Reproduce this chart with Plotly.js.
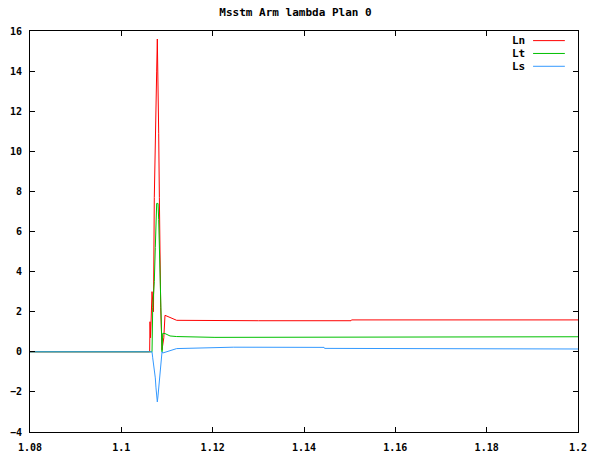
<!DOCTYPE html>
<html>
<head>
<meta charset="utf-8">
<script src="https://cdn.plot.ly/plotly-3.0.1.min.js"></script>
<style>html,body{margin:0;padding:0;background:#fff;}#chart{width:591px;height:456px;}</style>
</head>
<body>
<div id="chart"></div>
<script>
// ---- data ----
const lnX = [1.08, 1.1062, 1.10628, 1.10640, 1.10672, 1.10704, 1.10722, 1.10744, 1.10759, 1.10774, 1.10788, 1.10803, 1.10818, 1.10833, 1.10862, 1.10891, 1.10930, 1.10956, 1.11066, 1.11212, 1.1300, 1.1503, 1.1504, 1.2];
const lnY = [0, 0, 1.5, 0.7, 3.0, 2.0, 7.7, 10.9, 14.0, 14.0, 15.6, 14.0, 10.9, 7.7, 2.2, 0.1, 0.7, 1.82, 1.7, 1.57, 1.55, 1.55, 1.59, 1.59];

const ltX = [1.08, 1.10672, 1.10687, 1.10722, 1.10744, 1.10759, 1.10774, 1.10788, 1.10803, 1.10818, 1.10833, 1.10862, 1.10891, 1.10906, 1.10956, 1.11066, 1.11212, 1.1205, 1.1424, 1.1425, 1.2];
const ltY = [0, 0, 2.2, 3.5, 5.2, 6.6, 7.4, 7.4, 7.4, 6.6, 5.2, 2.5, 0.0, 0.92, 0.91, 0.79, 0.76, 0.72, 0.72, 0.75, 0.75];

const lsX = [1.08, 1.10672, 1.10687, 1.10722, 1.10744, 1.10759, 1.10774, 1.10788, 1.10803, 1.10818, 1.10833, 1.10862, 1.10891, 1.10906, 1.11066, 1.11212, 1.1245, 1.1444, 1.1445, 1.1774, 1.1775, 1.2];
const lsY = [0, 0, -0.3, -0.8, -1.3, -1.8, -2.2, -2.5, -2.2, -1.8, -1.3, -0.6, 0.0, -0.06, 0.05, 0.16, 0.23, 0.22, 0.17, 0.17, 0.14, 0.14];

const seriesNames = ["Ln", "Lt", "Ls"];
const seriesColors = ["#ff0000", "#00c000", "#3399ff"];
const xTicks = [1.08, 1.1, 1.12, 1.14, 1.16, 1.18, 1.2];
const xTickText = ["1.08", "1.1", "1.12", "1.14", "1.16", "1.18", "1.2"];
const yTicks = [-4, -2, 0, 2, 4, 6, 8, 10, 12, 14, 16];

const font = {family: "DejaVu Sans Mono", size: 10, color: "#000", weight: "bold"};

const xs = [lnX, ltX, lsX], ys = [lnY, ltY, lsY];
const traces = seriesNames.map((n, i) => ({
  x: xs[i], y: ys[i], name: n, type: "scatter", mode: "lines",
  line: {color: seriesColors[i], width: 1}, showlegend: false, hoverinfo: "skip"
}));

// custom gnuplot-style key: text then sample line
const keyY = [0.976, 0.944, 0.912];
const annotations = seriesNames.map((n, i) => ({
  text: n, xref: "paper", yref: "paper", x: 0.907, y: keyY[i],
  xanchor: "right", yanchor: "middle", showarrow: false,
  font: {family: "DejaVu Sans Mono", size: 11, color: "#000", weight: "bold"}
}));
const shapes = seriesNames.map((n, i) => ({
  type: "line", xref: "paper", yref: "paper", x0: 0.918, x1: 0.976, y0: keyY[i], y1: keyY[i],
  line: {color: seriesColors[i], width: 1}
}));

const layout = {
  width: 591, height: 456,
  margin: {l: 30, r: 13, t: 31, b: 24, pad: 0},
  paper_bgcolor: "#fff", plot_bgcolor: "#fff",
  title: {text: "Msstm Arm lambda Plan 0", x: 0.5, xanchor: "center", y: 0.974, yanchor: "middle",
          font: {family: "DejaVu Sans Mono", size: 11, color: "#000", weight: "bold"}},
  xaxis: {range: [1.08, 1.2], tickvals: xTicks, ticktext: xTickText, ticks: "inside", ticklen: 5,
          tickcolor: "#000", showline: true, linecolor: "#000", linewidth: 1, mirror: "ticks",
          showgrid: false, zeroline: false, tickfont: font, ticklabelstandoff: 6},
  yaxis: {range: [-4, 16], tickvals: yTicks, ticks: "inside", ticklen: 5,
          tickcolor: "#000", showline: true, linecolor: "#000", linewidth: 1, mirror: "ticks",
          showgrid: false, zeroline: false, tickfont: font, ticklabelstandoff: 5},
  annotations: annotations, shapes: shapes, showlegend: false
};

Plotly.newPlot("chart", traces, layout, {displayModeBar: false, staticPlot: true});
</script>
</body>
</html>
